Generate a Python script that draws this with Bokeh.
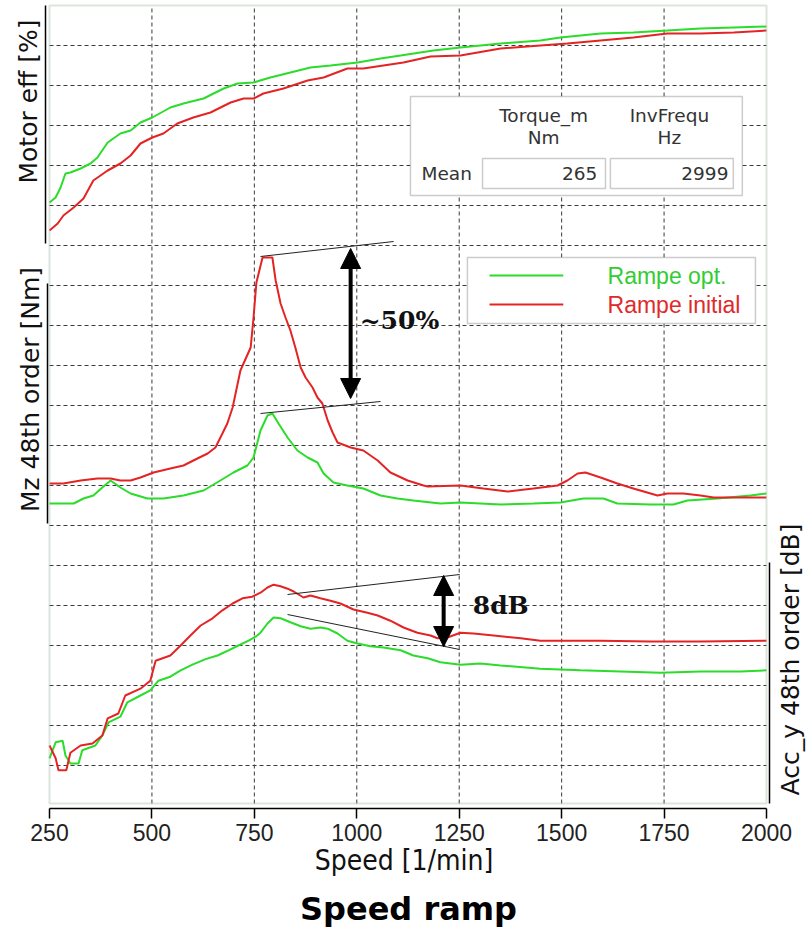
import numpy as np
from bokeh.plotting import figure
from bokeh.layouts import column
from bokeh.models import Range1d, FixedTicker, Label, Arrow, NormalHead, BoxAnnotation
from bokeh.embed import file_html
from bokeh.resources import INLINE

# ---------------- data ----------------
speed_ticks = [250, 500, 750, 1000, 1250, 1500, 1750, 2000]

eff_speed_opt = [250, 265, 277, 289, 301, 326, 350, 367, 392, 423, 448, 472, 501, 545, 577, 626, 675, 709, 748, 789,
                 838, 887, 936, 1002, 1058, 1107, 1187, 1253, 1351, 1448, 1497, 1595, 1675, 1758, 1839, 1920, 2000]
eff_opt = [88.15, 88.4, 88.9, 89.6, 89.65, 89.85, 90.1, 90.4, 91.15, 91.6, 91.75, 92.15, 92.4, 92.9, 93.1, 93.35,
           93.85, 94.1, 94.15, 94.4, 94.65, 94.9, 95.0, 95.15, 95.35, 95.5, 95.75, 95.9, 96.1, 96.25, 96.4, 96.6,
           96.65, 96.75, 96.85, 96.9, 96.95]
eff_speed_init = [250, 270, 284, 309, 333, 357, 392, 423, 448, 472, 501, 528, 562, 601, 643, 692, 724, 748, 772, 821,
                  880, 919, 977, 1016, 1065, 1114, 1180, 1253, 1351, 1448, 1514, 1595, 1675, 1758, 1839, 1920, 2000]
eff_init = [86.75, 87.1, 87.5, 87.9, 88.35, 89.25, 89.75, 90.1, 90.5, 91.1, 91.4, 91.6, 92.1, 92.4, 92.65, 93.15,
            93.35, 93.35, 93.6, 93.85, 94.25, 94.4, 94.85, 94.85, 95.0, 95.15, 95.45, 95.5, 95.85, 96.0, 96.1,
            96.25, 96.4, 96.6, 96.6, 96.65, 96.75]

mz_speed_init = [250, 284, 326, 367, 399, 423, 448, 472, 504, 545, 577, 611, 636, 655, 672, 684, 697, 716, 741, 748,
                 755, 770, 794, 802, 814, 826, 838, 850, 863, 875, 892, 904, 916, 929, 941, 953, 985, 1016, 1051, 1082,
                 1124, 1163, 1173, 1253, 1309, 1368, 1431, 1490, 1514, 1539, 1558, 1595, 1636, 1675, 1734, 1758, 1797,
                 1839, 1871, 1920, 2000]
mz_init = [0.105, 0.105, 0.1125, 0.1175, 0.1175, 0.1125, 0.1125, 0.12, 0.1325, 0.1425, 0.15, 0.1675, 0.18, 0.195,
           0.23, 0.255, 0.295, 0.3875, 0.445, 0.52, 0.6075, 0.67, 0.67, 0.6125, 0.555, 0.52, 0.4875, 0.445, 0.395,
           0.37, 0.345, 0.32, 0.305, 0.2625, 0.2325, 0.2075, 0.195, 0.1875, 0.1625, 0.1325, 0.1125, 0.1, 0.0975,
           0.1, 0.0925, 0.085, 0.0925, 0.1, 0.1125, 0.13, 0.1325, 0.12, 0.105, 0.0925, 0.075, 0.08, 0.08, 0.075,
           0.07, 0.07, 0.07]
mz_speed_opt = [250, 309, 333, 357, 379, 399, 423, 448, 489, 528, 577, 626, 667, 699, 733, 748, 765, 782, 794, 809,
                831, 855, 880, 904, 919, 943, 977, 1016, 1058, 1099, 1138, 1204, 1253, 1351, 1431, 1497, 1553, 1602,
                1636, 1717, 1773, 1807, 1880, 1961, 2000]
mz_opt = [0.055, 0.055, 0.0675, 0.075, 0.095, 0.1125, 0.095, 0.08, 0.0675, 0.0675, 0.075, 0.0875, 0.1125, 0.1325,
          0.15, 0.17, 0.2375, 0.275, 0.28, 0.255, 0.22, 0.1875, 0.17, 0.1575, 0.13, 0.1075, 0.1, 0.0925, 0.075,
          0.0675, 0.0625, 0.055, 0.0575, 0.0525, 0.055, 0.0575, 0.0675, 0.0675, 0.055, 0.0525, 0.0525, 0.0625,
          0.0675, 0.075, 0.08]

acc_speed_init = [250, 265, 272, 291, 301, 326, 355, 379, 392, 418, 435, 472, 496, 509, 545, 570, 594, 619, 648, 672,
                  697, 721, 745, 765, 782, 797, 814, 831, 846, 870, 887, 911, 936, 960, 992, 1026, 1051, 1082, 1114,
                  1148, 1180, 1197, 1221, 1253, 1285, 1334, 1400, 1448, 1595, 1717, 1839, 2000]
acc_init = [72.5, 70.9, 69.4, 69.4, 71.6, 72.5, 72.75, 73.75, 75.9, 76.5, 78.75, 79.6, 80.6, 83.1, 83.75, 85.0,
            86.25, 87.5, 88.4, 89.4, 90.25, 90.9, 91.1, 91.6, 92.25, 92.6, 92.4, 92.1, 91.75, 91.0, 91.25, 90.9,
            90.6, 90.25, 89.5, 89.1, 88.75, 88.1, 87.25, 86.6, 86.25, 85.9, 86.0, 86.6, 86.5, 86.25, 85.9, 85.6,
            85.6, 85.5, 85.5, 85.6]
acc_speed_opt = [250, 265, 282, 289, 301, 321, 330, 362, 379, 394, 423, 440, 472, 496, 516, 545, 570, 599, 631, 660,
                 687, 711, 736, 753, 765, 782, 797, 814, 838, 863, 887, 911, 929, 953, 977, 1002, 1033, 1065, 1107,
                 1138, 1173, 1204, 1253, 1302, 1351, 1448, 1546, 1644, 1741, 1839, 1937, 2000]
acc_opt = [70.9, 72.9, 73.1, 71.25, 70.25, 70.25, 71.9, 72.5, 73.75, 75.4, 76.1, 77.9, 78.75, 79.4, 80.6, 81.1,
           81.9, 82.6, 83.3, 83.75, 84.4, 85.0, 85.6, 86.1, 86.6, 87.75, 88.5, 88.4, 87.9, 87.4, 87.1, 87.25, 87.1,
           86.5, 85.6, 85.25, 84.9, 84.75, 84.4, 83.75, 83.4, 82.9, 82.6, 82.75, 82.5, 82.1, 81.9, 81.75, 81.6,
           81.75, 81.75, 81.9]

panel_labels = ["Motor eff [%]", "Mz 48th order [Nm]", "Acc_y 48th order [dB]"]
stat_headers = ["Torque_m", "InvFrequ"]
stat_units = ["Nm", "Hz"]
stat_means = ["265", "2999"]
legend_labels = ["Rampe opt.", "Rampe initial"]
title_text = "Speed ramp"

# ---------------- style / layout ----------------
GREEN = "#2bdc2b"
RED = "#e42424"
GREEN_T = "#33cc33"
RED_T = "#e02a2a"
FRAME = "#8fa88f"
GRID = "#3a3a3a"

W = 807
MAIN_H = 889
TITLE_H = 40
FH = 808                 # frame height in px units (main y range)
PXR = 1750 / 717.0       # rpm per pixel
X0 = 250 - 49 * PXR      # left edge of canvas in rpm
X1 = 2000 + 41 * PXR     # right edge of canvas in rpm

p = figure(width=W, height=MAIN_H, x_range=Range1d(X0, X1), y_range=Range1d(0, FH),
           output_backend="svg", toolbar_location=None, y_axis_location=None,
           min_border_left=0, min_border_right=0, min_border_top=0, min_border_bottom=MAIN_H - FH)

# y ranges of the three stacked panels
p.extra_y_ranges = {
    "eff": Range1d(98 - (FH - 5) / 20.0, 98 + 5 / 20.0),
    "mz": Range1d(-283 / 400.0, (FH - 283) / 400.0),
    "acc": Range1d(70 - 43 / 8.0, 70 + (FH - 43) / 8.0),
}

p.background_fill_color = "white"
p.border_fill_color = "white"
p.outline_line_color = None
p.xgrid.visible = False
p.ygrid.visible = False

ax = p.xaxis[0]
ax.ticker = FixedTicker(ticks=speed_ticks)
ax.bounds = (250, 2000)
ax.axis_label = "Speed [1/min]"
ax.axis_line_color = "black"
ax.axis_line_width = 1.5
ax.major_tick_in = 0
ax.major_tick_out = 10
ax.major_tick_line_width = 1.5
ax.minor_tick_line_color = None
ax.major_label_text_font = "Liberation Sans"
ax.major_label_text_font_size = "23px"
ax.major_label_text_color = "#222222"
ax.major_label_standoff = 5
ax.axis_label_text_font = "DejaVu Sans Condensed"
ax.axis_label_text_font_style = "normal"
ax.axis_label_text_font_size = "28px"
ax.axis_label_text_color = "#111111"
ax.axis_label_standoff = 0

# ---------------- grid (dashed) ----------------
grid_x = speed_ticks[1:-1]
grid_y = [43 + 40 * i for i in range(19)]
p.segment(x0=grid_x, y0=5, x1=grid_x, y1=FH - 5, line_color=GRID, line_dash="4 3", line_width=1)
p.segment(x0=250, y0=grid_y, x1=2000, y1=grid_y, line_color=GRID, line_dash="4 3", line_width=1)

# ---------------- curves ----------------
p.line(eff_speed_opt, eff_opt, y_range_name="eff", line_color=GREEN, line_width=2)
p.line(eff_speed_init, eff_init, y_range_name="eff", line_color=RED, line_width=2)
p.line(mz_speed_opt, mz_opt, y_range_name="mz", line_color=GREEN, line_width=2)
p.line(mz_speed_init, mz_init, y_range_name="mz", line_color=RED, line_width=2)
p.line(acc_speed_opt, acc_opt, y_range_name="acc", line_color=GREEN, line_width=2)
p.line(acc_speed_init, acc_init, y_range_name="acc", line_color=RED, line_width=2)

# drawing-area border
p.add_layout(BoxAnnotation(left=250, right=2000, bottom=5, top=FH - 5, fill_alpha=0,
                           line_color=FRAME, line_width=2))

# ---------------- panel axis segments & labels ----------------
for xs, y0, y1 in [(250 - 4 * PXR, 565, FH - 5), (250 - 2 * PXR, 285, 525), (2000 + 3 * PXR, 5, 246)]:
    p.add_layout(Arrow(start=None, end=None, x_start=xs, x_end=xs, y_start=y0, y_end=y1,
                       line_color="black", line_width=1.5))

for txt, xx, yy in [(panel_labels[0], 250 - 21 * PXR, 707), (panel_labels[1], 250 - 19 * PXR, 419),
                    (panel_labels[2], 2000 + 24 * PXR, 149)]:
    p.add_layout(Label(x=xx, y=yy, text=txt, angle=np.pi / 2, text_align="center", text_baseline="middle",
                       text_font="DejaVu Sans", text_font_size="25px", text_color="#111111"))

# ---------------- stats box ----------------
p.add_layout(BoxAnnotation(left=1131, right=1941, bottom=613, top=712, fill_color="white", fill_alpha=1,
                           line_color="#555555", line_width=1.5, level="annotation"))
for l, r in [(1307, 1607), (1619, 1919)]:
    p.add_layout(BoxAnnotation(left=l, right=r, bottom=620, top=650, fill_color="white", fill_alpha=1,
                               line_color="#555555", line_width=1.5, level="annotation"))
SF = dict(text_font="DejaVu Sans", text_font_size="18.5px", text_color="#333333", text_baseline="middle")
for i, cx in enumerate([1456, 1763]):
    p.add_layout(Label(x=cx, y=693, text=stat_headers[i], text_align="center", **SF))
    p.add_layout(Label(x=cx, y=671, text=stat_units[i], text_align="center", **SF))
p.add_layout(Label(x=1158, y=635, text="Mean", text_align="left", **SF))
for tx, rx in zip(stat_means, [1587, 1907]):
    p.add_layout(Label(x=rx, y=635, text=tx, text_align="right", **SF))

# ---------------- legend ----------------
p.add_layout(BoxAnnotation(left=1270, right=1973, bottom=485, top=551, fill_color="white", fill_alpha=1,
                           line_color="#555555", line_width=1.5, level="annotation"))
for lab, col, tcol, yy in [(legend_labels[0], GREEN, GREEN_T, 533), (legend_labels[1], RED, RED_T, 504)]:
    p.add_layout(Arrow(start=None, end=None, x_start=1324, x_end=1504, y_start=yy, y_end=yy,
                       line_color=col, line_width=2))
    p.add_layout(Label(x=1612, y=yy, text=lab, text_align="left", text_baseline="middle",
                       text_font="Liberation Sans", text_font_size="23px", text_color=tcol))

# ---------------- annotations ----------------
def thin(x0, y0, x1, y1, rn):
    p.add_layout(Arrow(start=None, end=None, x_start=x0, y_start=y0, x_end=x1, y_end=y1,
                       y_range_name=rn, line_color="#222222", line_width=1))

def dbl(x, y0, y1, rn):
    p.add_layout(Arrow(start=NormalHead(size=20, fill_color="black", line_color="black"),
                       end=NormalHead(size=20, fill_color="black", line_color="black"),
                       x_start=x, y_start=y0, x_end=x, y_end=y1, y_range_name=rn,
                       line_color="black", line_width=4))

thin(765, 0.6725, 1090, 0.71, "mz")
thin(765, 0.28, 1058, 0.31, "mz")
dbl(985, 0.3175, 0.6925, "mz")
p.add_layout(Label(x=1007, y=0.5125, y_range_name="mz", text="~50%", text_align="left", text_baseline="middle",
                   text_font="DejaVu Serif", text_font_style="bold", text_font_size="25px", text_color="#111111"))

thin(831, 91.375, 1251, 93.875, "acc")
thin(831, 88.875, 1251, 84.5, "acc")
dbl(1212, 84.875, 93.75, "acc")
p.add_layout(Label(x=1283, y=90.0, y_range_name="acc", text="8dB", text_align="left", text_baseline="middle",
                   text_font="DejaVu Serif", text_font_style="bold", text_font_size="25px", text_color="#111111"))

# ---------------- title strip ----------------
t = figure(width=W, height=TITLE_H, x_range=Range1d(0, W), y_range=Range1d(0, TITLE_H),
           output_backend="svg", toolbar_location=None, x_axis_location=None, y_axis_location=None,
           min_border_left=0, min_border_right=0, min_border_top=0, min_border_bottom=0)
t.title.visible = False
t.outline_line_color = None
t.xgrid.visible = False
t.ygrid.visible = False
t.background_fill_color = "white"
t.border_fill_color = "white"
t.add_layout(Label(x=408, y=21, text=title_text, text_align="center", text_baseline="middle",
                   text_font="DejaVu Sans", text_font_style="bold", text_font_size="32px", text_color="black"))

layout = column(p, t, spacing=0)
open("out.html", "w").write(file_html(layout, INLINE))
